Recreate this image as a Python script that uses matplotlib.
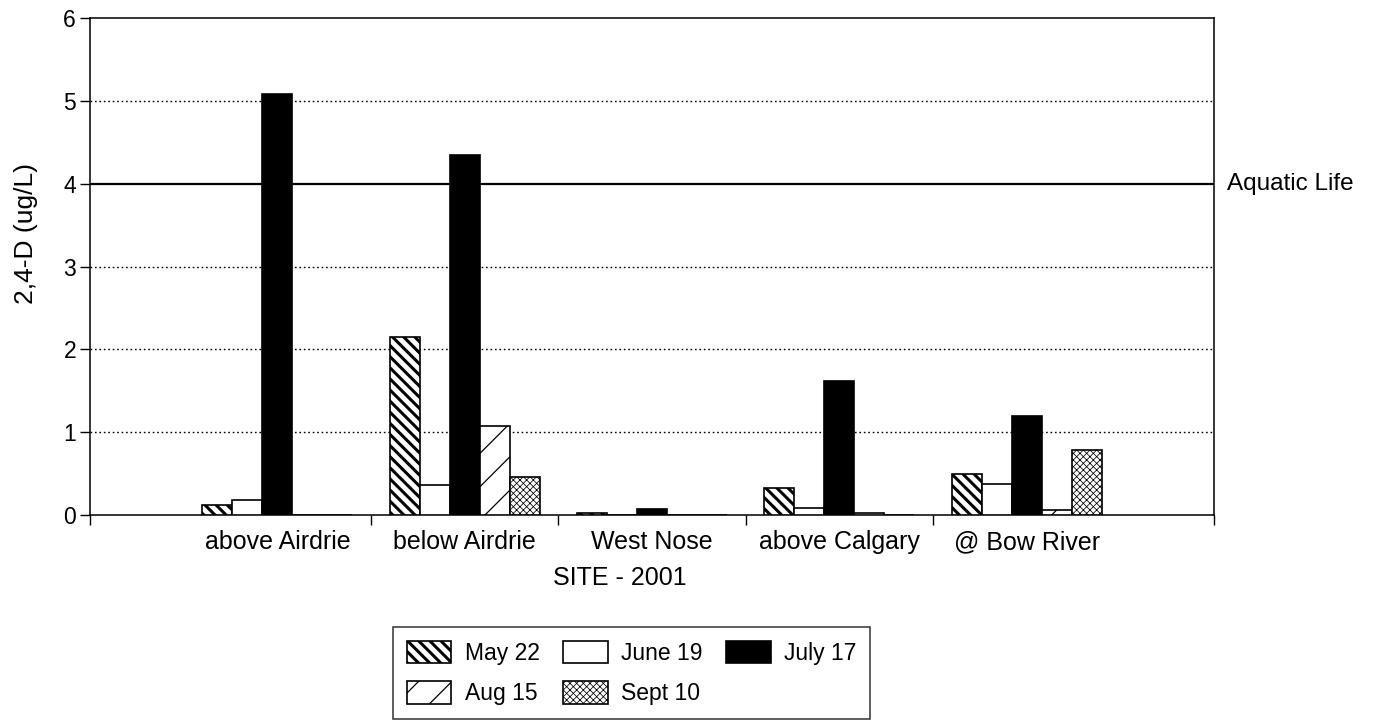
import matplotlib
matplotlib.use("Agg")
import matplotlib.pyplot as plt
import matplotlib.transforms as mtransforms
import numpy as np

plt.rcParams['font.family'] = ['Liberation Sans', 'DejaVu Sans']

sites = ["above Airdrie", "below Airdrie", "West Nose", "above Calgary", "@ Bow River"]
dates = ["May 22", "June 19", "July 17", "Aug 15", "Sept 10"]

may22 = [0.12, 2.15, 0.03, 0.32, 0.49]
june19 = [0.18, 0.36, 0.00, 0.08, 0.38]
july17 = [5.08, 4.35, 0.07, 1.62, 1.19]
aug15 = [0.00, 1.07, 0.00, 0.03, 0.06]
sept10 = [0.00, 0.46, 0.00, 0.00, 0.79]

aquatic_life_guideline = 4.0
y_ticks = [0, 1, 2, 3, 4, 5, 6]

series = [may22, june19, july17, aug15, sept10]
styles = [
    dict(facecolor="white", hatch="\\\\\\", hlw=2.2),
    dict(facecolor="white", hatch=None, hlw=1.0),
    dict(facecolor="black", hatch=None, hlw=1.0),
    dict(facecolor="white", hatch="/", hlw=0.9),
    dict(facecolor="white", hatch="xxxxx", hlw=0.55),
]

fig = plt.figure(figsize=(13.78, 7.2), dpi=100)
ax = fig.add_axes([90 / 1378, 1 - 515 / 720, (1214 - 90) / 1378, (515 - 18) / 720])

centers = np.arange(1, len(sites) + 1)
width = 0.16
handles = []
for i, (vals, st) in enumerate(zip(series, styles)):
    with plt.rc_context({'hatch.linewidth': st['hlw'], 'hatch.color': 'black'}):
        bars = ax.bar(centers + (i - 2) * width, vals, width=width,
                      facecolor=st['facecolor'], edgecolor="black",
                      linewidth=1.2, hatch=st['hatch'], zorder=3,
                      label=dates[i])
        for b in bars:
            if hasattr(b, "set_hatch_linewidth"):
                b.set_hatch_linewidth(st['hlw'])
    handles.append(bars)

# dotted gridlines and the guideline
for y in [1, 2, 3, 5]:
    ax.axhline(y, color="black", linestyle=(0, (1.2, 2.0)), linewidth=1.0, zorder=1)
ax.axhline(aquatic_life_guideline, color="black", linewidth=1.6, zorder=2)
trans = mtransforms.blended_transform_factory(ax.transAxes, ax.transData)
ax.text(1.012, aquatic_life_guideline, "Aquatic Life", transform=trans,
        ha="left", va="center", fontsize=17.5)

ax.set_xlim(0, 6)
ax.set_ylim(0, 6)
ax.set_yticks(y_ticks)
ax.set_yticklabels([str(v) for v in y_ticks], fontsize=16.5)
ax.set_xticks([0, 1.5, 2.5, 3.5, 4.5, 6])
ax.set_xticklabels([])
for c, name in zip(centers, sites):
    ax.text(c, -0.33, name, ha="center", va="center", fontsize=18,
            transform=ax.transData)
ax.tick_params(axis="both", direction="out", length=7, width=1.0, color="black")
ax.tick_params(axis="y", pad=3)
for s in ax.spines.values():
    s.set_linewidth(1.1)
    s.set_color("black")

fig.text(620 / 1378, 1 - 578 / 720, "SITE - 2001", ha="center", va="center", fontsize=18)
fig.text(26 / 1378, 1 - 234 / 720, "2,4-D (ug/L)", ha="center", va="center",
         rotation=90, fontsize=19)

# legend laid out row by row: May, June, July / Aug, Sept
order = [0, 3, 1, 4, 2]
with plt.rc_context({'hatch.color': 'black'}):
    leg = fig.legend([handles[k] for k in order], [dates[k] for k in order],
                     ncol=3, loc="upper left",
                     bbox_to_anchor=(393 / 1378, 1 - 627 / 720),
                     bbox_transform=fig.transFigure, frameon=True, fancybox=False,
                     edgecolor="black", fontsize=16.5, handlelength=1.95,
                     handleheight=1.15, handletextpad=0.6, columnspacing=1.0,
                     labelspacing=0.7, borderpad=0.6, borderaxespad=0)
leg.get_frame().set_linewidth(1.1)
for k, h in zip(order, leg.legend_handles):
    if hasattr(h, "set_hatch_linewidth"):
        h.set_hatch_linewidth(styles[k]['hlw'])

fig.savefig("out.png", dpi=100)
